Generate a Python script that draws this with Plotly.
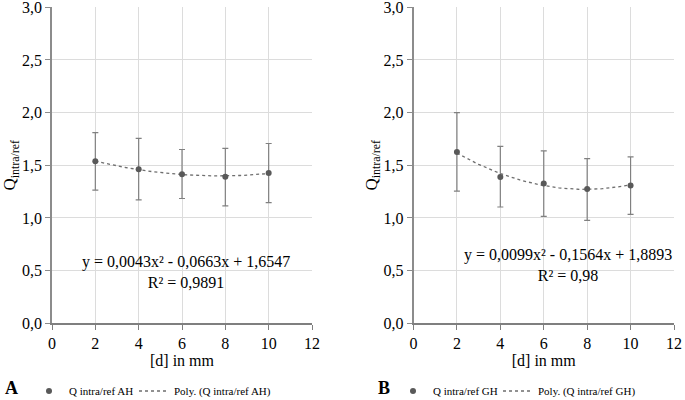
import numpy as np
import plotly.graph_objects as go

# ---- data ----
d_mm = [2, 4, 6, 8, 10]

q_ah = [1.538, 1.462, 1.414, 1.392, 1.427]
q_ah_err_plus = [0.272, 0.293, 0.236, 0.268, 0.280]
q_ah_err_minus = [0.274, 0.290, 0.229, 0.277, 0.281]

q_gh = [1.627, 1.389, 1.328, 1.274, 1.309]
q_gh_err_plus = [0.373, 0.290, 0.309, 0.290, 0.271]
q_gh_err_minus = [0.372, 0.285, 0.312, 0.296, 0.274]

# trendline coefficients (a*x^2 + b*x + c) as printed on the chart
poly_ah = [0.0043, -0.0663, 1.6547]
poly_gh = [0.0099, -0.1564, 1.8893]
r2_ah = "0,9891"
r2_gh = "0,98"

x_ticks = [0, 2, 4, 6, 8, 10, 12]
y_ticks = [0.0, 0.5, 1.0, 1.5, 2.0, 2.5, 3.0]

# ---- styles ----
FONT = "Times New Roman, Liberation Serif, serif"
MARK = "#595959"
ERR = "#808080"
GRID = "#dcdcdc"
AXIS = "#8c8c8c"
W, H = 685, 400

xs = np.linspace(2, 10, 81)

fig = go.Figure()

def add_panel(n, y, ep, em, poly, name, leg_m, leg_l):
    xa = "x" if n == 1 else "x2"
    ya = "y" if n == 1 else "y2"
    fig.add_trace(go.Scatter(
        x=xs, y=np.polyval(poly, xs), mode="lines", name=f"Poly. ({name})",
        xaxis=xa, yaxis=ya,
        line=dict(color="#6e6e6e", width=1.3, dash="dot"),
        legend=leg_l, showlegend=True,
    ))
    fig.add_trace(go.Scatter(
        x=d_mm, y=y, mode="markers", name=name, xaxis=xa, yaxis=ya,
        marker=dict(color=MARK, size=6),
        error_y=dict(type="data", array=ep, arrayminus=em, color=ERR,
                     thickness=1.2, width=3),
        legend=leg_m, showlegend=True,
    ))

add_panel(1, q_ah, q_ah_err_plus, q_ah_err_minus, poly_ah, "Q intra/ref AH", "legend", "legend3")
add_panel(2, q_gh, q_gh_err_plus, q_gh_err_minus, poly_gh, "Q intra/ref GH", "legend2", "legend4")

def fmt_eq(p, r2):
    a, b, c = p
    sb = "-" if b < 0 else "+"
    sc = "-" if c < 0 else "+"
    s = f"y = {a:.4f}x² {sb} {abs(b):.4f}x {sc} {abs(c):.4f}".replace(".", ",")
    return s + "<br>R² = " + r2

xaxis_common = dict(
    range=[0, 12], tickvals=x_ticks, ticktext=[str(v) for v in x_ticks],
    showgrid=True, gridcolor=GRID, gridwidth=1,
    showline=True, linecolor="#7f7f7f", linewidth=1.5,
    ticks="outside", ticklen=5, tickcolor="#7f7f7f",
    zeroline=False, automargin=False, ticklabeloverflow="allow",
    tickfont=dict(family=FONT, size=16, color="#000"),
    title=dict(text="[d] in mm", font=dict(family=FONT, size=16, color="#000"), standoff=4),
)
yaxis_common = dict(
    range=[0, 3], tickvals=y_ticks,
    ticktext=[f"{v:.1f}".replace(".", ",") for v in y_ticks],
    showgrid=True, gridcolor=GRID, gridwidth=1,
    showline=True, linecolor=AXIS, linewidth=1.5,
    ticks="outside", ticklen=5, tickcolor=AXIS,
    zeroline=False, automargin=False, ticklabeloverflow="allow",
    tickfont=dict(family=FONT, size=16, color="#000"),
    title=dict(text="Q<sub>intra/ref</sub>", font=dict(family=FONT, size=17, color="#000"), standoff=2),
)

leg_common = dict(orientation="h", y=9 / H, xanchor="left", yanchor="middle",
                  font=dict(family=FONT, size=11, color="#000"), itemwidth=30,
                  bgcolor="rgba(0,0,0,0)")

fig.update_layout(
    width=W, height=H,
    margin=dict(l=0, r=0, t=0, b=0, autoexpand=False),
    plot_bgcolor="white", paper_bgcolor="white",
    showlegend=True,
    xaxis=dict(domain=[52.0 / W, 312.0 / W], anchor="y", **xaxis_common),
    yaxis=dict(domain=[1 - 323.3 / H, 1 - 7.3 / H], anchor="x", **yaxis_common),
    xaxis2=dict(domain=[413.5 / W, 674.0 / W], anchor="y2", **xaxis_common),
    yaxis2=dict(domain=[1 - 323.3 / H, 1 - 7.3 / H], anchor="x2", **yaxis_common),
    legend=dict(x=29 / W, **leg_common),
    legend3=dict(x=134 / W, **leg_common),
    legend2=dict(x=393 / W, **leg_common),
    legend4=dict(x=498 / W, **leg_common),
    annotations=[
        dict(text=fmt_eq(poly_ah, r2_ah), x=6.18, y=0.49, xref="x", yref="y",
             showarrow=False, font=dict(family=FONT, size=16, color="#000")),
        dict(text=fmt_eq(poly_gh, r2_gh), x=7.13, y=0.555, xref="x2", yref="y2",
             showarrow=False, font=dict(family=FONT, size=16, color="#000")),
        dict(text="<b>A</b>", x=11 / W, y=12 / H, xref="paper", yref="paper",
             xanchor="center", yanchor="middle",
             showarrow=False, font=dict(family=FONT, size=18, color="#000")),
        dict(text="<b>B</b>", x=384 / W, y=12 / H, xref="paper", yref="paper",
             xanchor="center", yanchor="middle",
             showarrow=False, font=dict(family=FONT, size=18, color="#000")),
    ],
)

fig.write_html("out.html",
               config={"displayModeBar": False},
               post_script="document.body.style.margin='0';document.body.style.overflow='hidden';")
